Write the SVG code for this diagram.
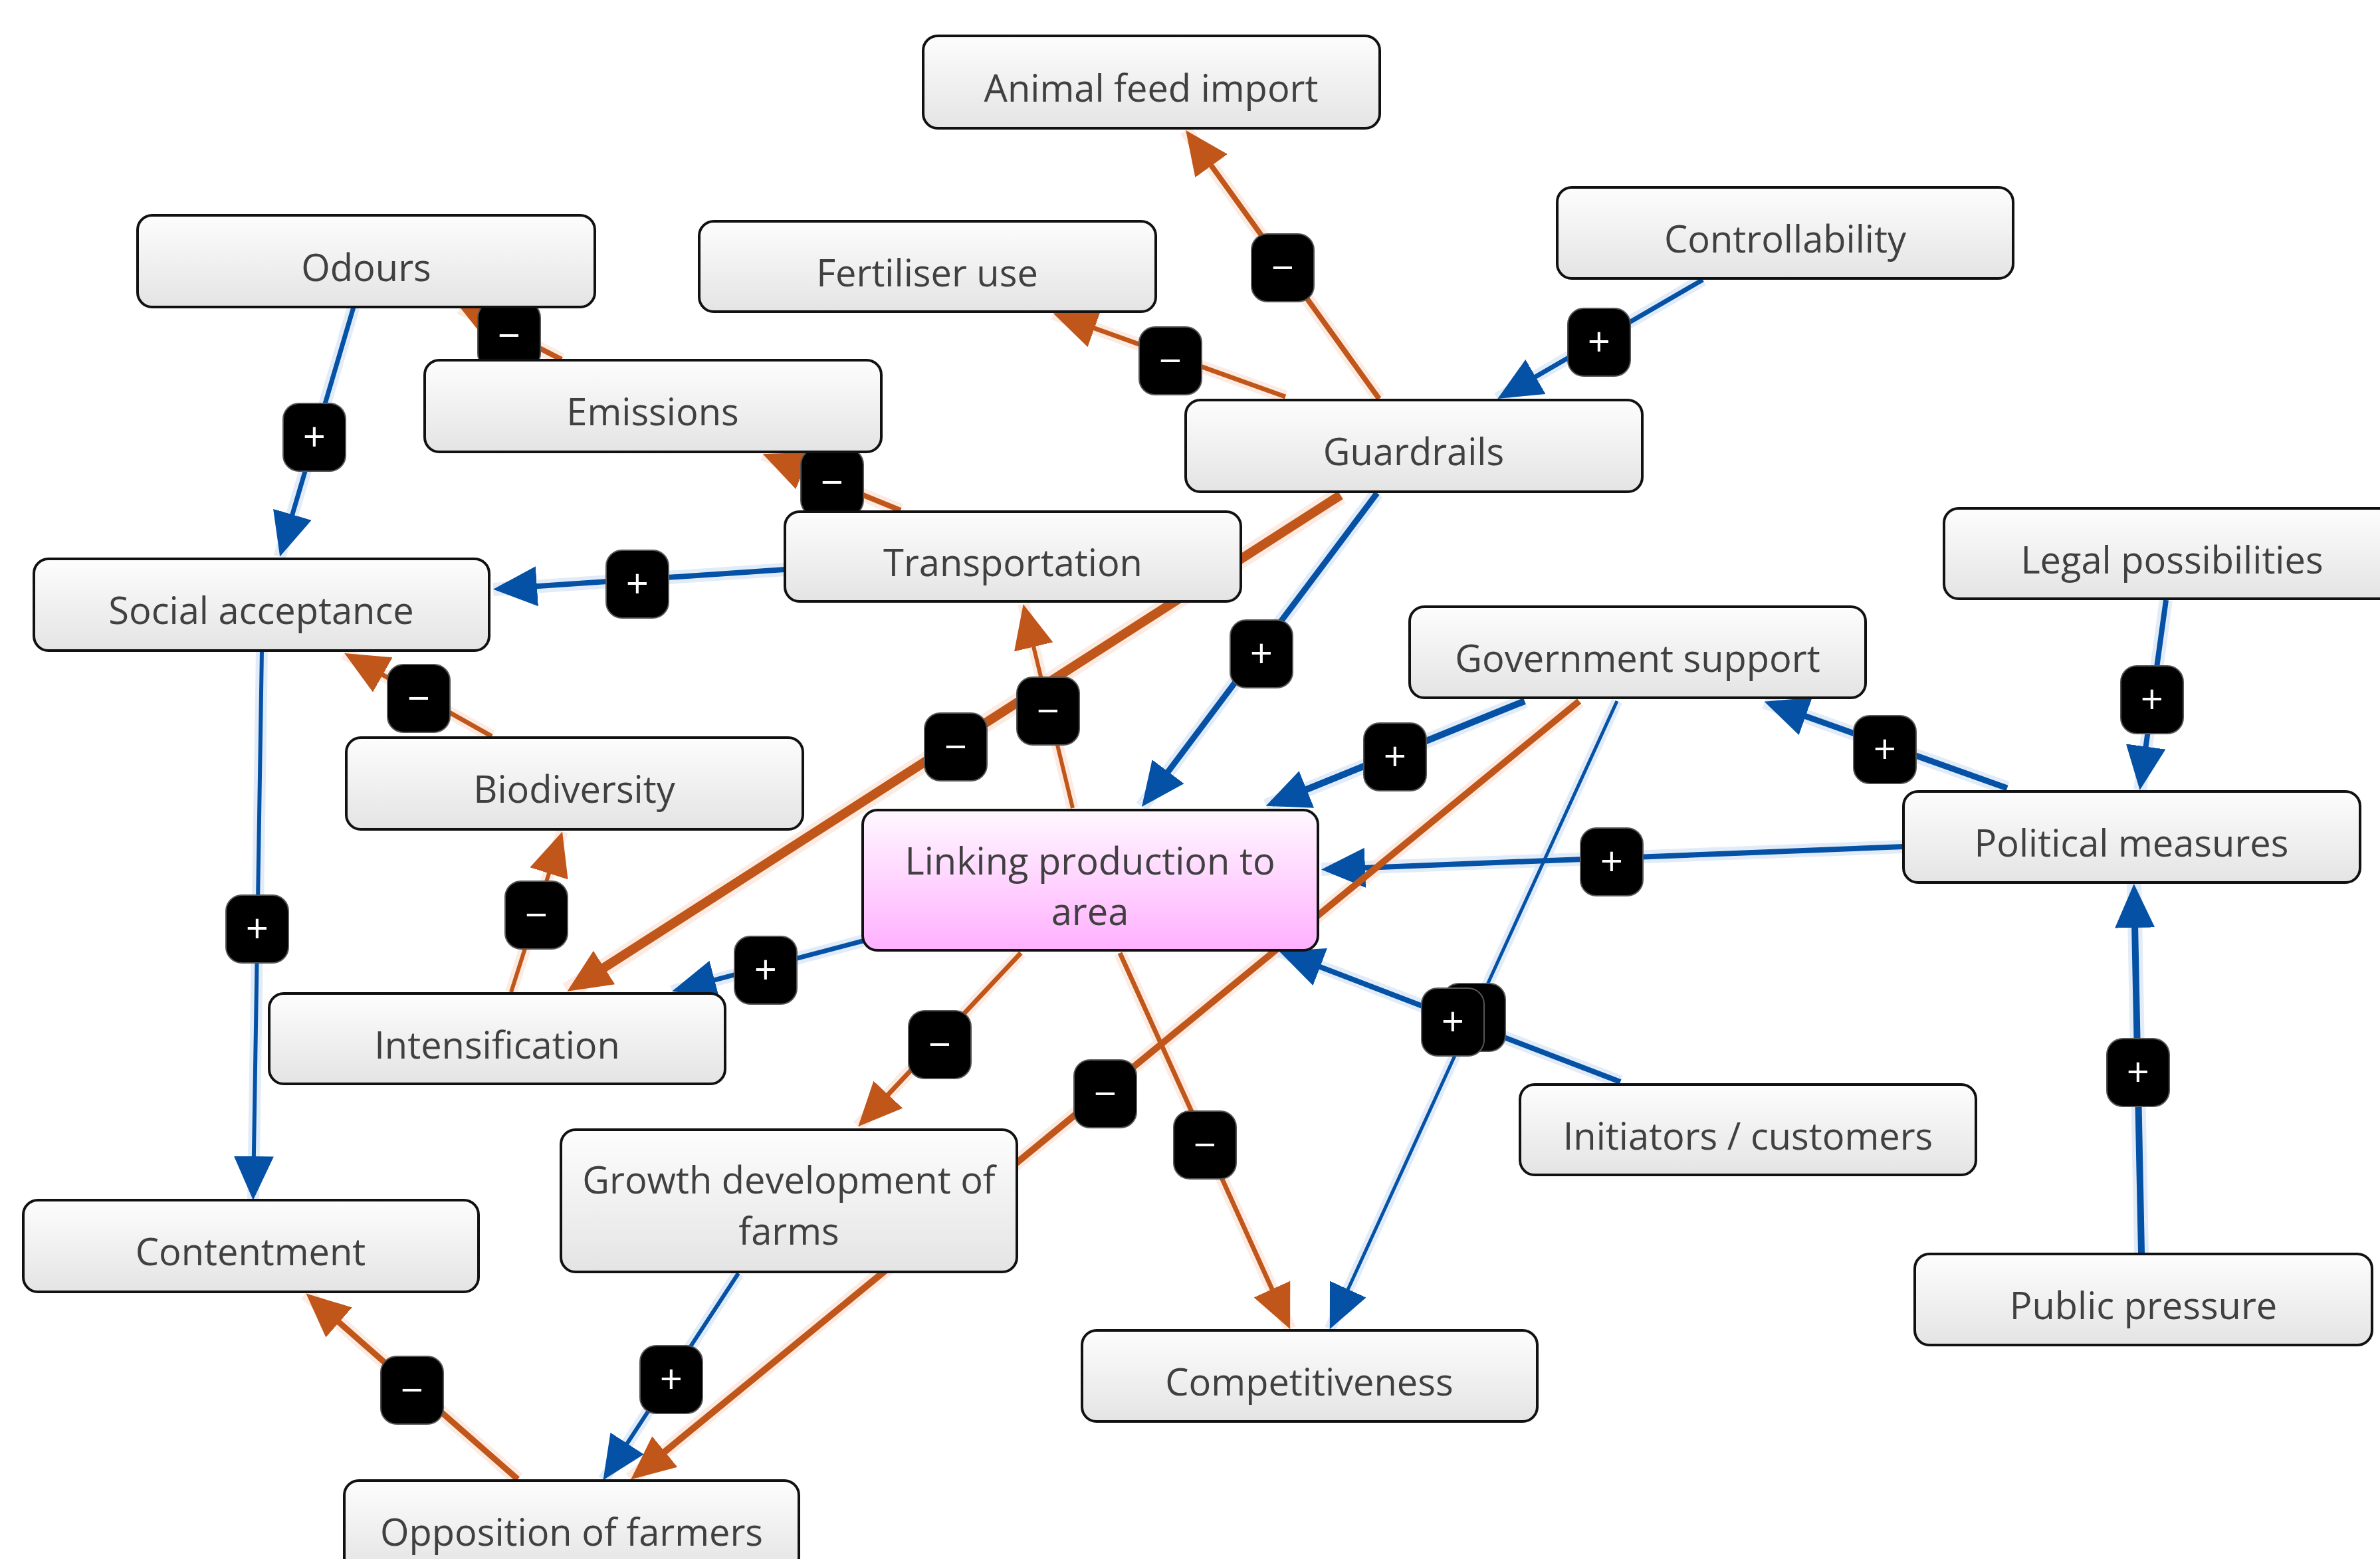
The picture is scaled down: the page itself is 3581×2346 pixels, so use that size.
<svg xmlns="http://www.w3.org/2000/svg" width="3581" height="2346" viewBox="0 0 3581 2346">
<defs>
<linearGradient id="gNode" x1="0" y1="0" x2="0" y2="1">
<stop offset="0" stop-color="#fdfdfd"/><stop offset="1" stop-color="#e4e4e4"/>
</linearGradient>
<linearGradient id="gPink" x1="0" y1="0" x2="0" y2="1">
<stop offset="0" stop-color="#fff8ff"/><stop offset="1" stop-color="#ffb0ff"/>
</linearGradient>
<marker id="ab" markerUnits="userSpaceOnUse" viewBox="0 0 66 60" markerWidth="66" markerHeight="60" refX="56" refY="30" orient="auto"><path d="M0,0 L66,30 L0,60 z" fill="#0451a5"/></marker>
<marker id="ao" markerUnits="userSpaceOnUse" viewBox="0 0 66 60" markerWidth="66" markerHeight="60" refX="56" refY="30" orient="auto"><path d="M0,0 L66,30 L0,60 z" fill="#c0561a"/></marker>
<marker id="aoT" markerUnits="userSpaceOnUse" viewBox="0 0 66 60" markerWidth="66" markerHeight="60" refX="50" refY="30" orient="auto"><path d="M0,0 L66,30 L0,60 z" fill="#c0561a"/></marker>
</defs>
<style>
.node rect{fill:url(#gNode);stroke:#111;stroke-width:4}
.node.pink rect{fill:url(#gPink)}
.node text{font-family:"Open Sans","Noto Sans","Liberation Sans",sans-serif;font-size:56px;fill:#404040;text-anchor:middle}
.b{stroke:#0451a5;fill:none;marker-end:url(#ab)}
.o{stroke:#c0561a;fill:none;marker-end:url(#ao)}
.hb{stroke:#d6e4f5;fill:none;opacity:0.7}
.ho{stroke:#fbe3d6;fill:none;opacity:0.7}
.lab rect{fill:#000;stroke:#555;stroke-width:2}
.lab text{font-family:"Open Sans","Noto Sans","Liberation Sans",sans-serif;font-size:60px;fill:#fff;text-anchor:middle}
</style>
<rect x="0" y="0" width="3581" height="2346" fill="#fff"/>
<g id="connectors">
<g id="halos">
<line class="ho" stroke-width="20" x1="2075" y1="600" x2="1784" y2="196"/>
<line class="ho" stroke-width="19" x1="1934" y1="597" x2="1585" y2="472"/>
<line class="hb" stroke-width="19" x1="2562" y1="421" x2="2253" y2="600"/>
<line class="ho" stroke-width="20" x1="845" y1="541" x2="692" y2="463"/>
<line class="ho" stroke-width="20" x1="1355" y1="768" x2="1148" y2="683"/>
<line class="hb" stroke-width="19" x1="532" y1="462" x2="421" y2="838"/>
<line class="hb" stroke-width="20" x1="1181" y1="857" x2="742" y2="887"/>
<line class="ho" stroke-width="19" x1="740" y1="1108" x2="518" y2="983"/>
<line class="ho" stroke-width="18" x1="769" y1="1493" x2="846" y2="1251"/>
<line class="hb" stroke-width="18" x1="394" y1="979" x2="381" y2="1806"/>
<line class="ho" stroke-width="28" x1="2017" y1="745" x2="854" y2="1492"/>
<line class="hb" stroke-width="21" x1="2072" y1="742" x2="1718" y2="1214"/>
<line class="ho" stroke-width="18" x1="1614" y1="1216" x2="1540" y2="909"/>
<line class="hb" stroke-width="22" x1="2294" y1="1055" x2="1905" y2="1213"/>
<line class="hb" stroke-width="20" x1="2864" y1="1274" x2="1988" y2="1308"/>
<line class="hb" stroke-width="21" x1="3020" y1="1186" x2="2655" y2="1056"/>
<line class="hb" stroke-width="20" x1="3259" y1="903" x2="3220" y2="1189"/>
<line class="hb" stroke-width="22" x1="3222" y1="1885" x2="3211" y2="1330"/>
<line class="hb" stroke-width="19" x1="1298" y1="1416" x2="1011" y2="1492"/>
<line class="ho" stroke-width="19" x1="1536" y1="1434" x2="1291" y2="1695"/>
<line class="ho" stroke-width="22" x1="2376" y1="1055" x2="949" y2="2226"/>
<line class="ho" stroke-width="19" x1="1685" y1="1434" x2="1941" y2="2000"/>
<line class="hb" stroke-width="17" x1="2433" y1="1055" x2="2001" y2="2000"/>
<line class="hb" stroke-width="20" x1="2438" y1="1628" x2="1925" y2="1431"/>
<line class="hb" stroke-width="18" x1="1111" y1="1916" x2="908" y2="2227"/>
<line class="ho" stroke-width="21" x1="779" y1="2226" x2="460" y2="1946"/>
</g>
<g id="lines">
<line id="e1" class="o" stroke-width="8" x1="2075" y1="600" x2="1790" y2="204"/>
<line id="e2" class="o" stroke-width="7" x1="1934" y1="597" x2="1594" y2="475"/>
<line id="e3" class="b" stroke-width="7" x1="2562" y1="421" x2="2262" y2="595"/>
<line id="e4" class="o" stroke-width="8" x1="845" y1="541" x2="701" y2="467"/>
<line id="e5" class="o" stroke-width="8" x1="1355" y1="768" x2="1157" y2="687"/>
<line id="e6" class="b" stroke-width="7" x1="532" y1="462" x2="424" y2="828"/>
<line id="e7" class="b" stroke-width="8" x1="1181" y1="857" x2="752" y2="886"/>
<line id="e8" class="o" stroke-width="7" x1="740" y1="1108" x2="527" y2="988"/>
<line id="e9" class="o" stroke-width="6" x1="769" y1="1493" x2="843" y2="1261"/>
<line id="e10" class="b" stroke-width="6" x1="394" y1="979" x2="381" y2="1796"/>
<line id="e11" class="o" stroke-width="14" style="marker-end:url(#aoT)" x1="2017" y1="745" x2="867" y2="1483"/>
<line id="e12" class="b" stroke-width="9" x1="2072" y1="742" x2="1724" y2="1206"/>
<line id="e13" class="o" stroke-width="6" x1="1614" y1="1216" x2="1542" y2="919"/>
<line id="e14" class="b" stroke-width="10" x1="2294" y1="1055" x2="1914" y2="1209"/>
<line id="e15" class="b" stroke-width="8" x1="2864" y1="1274" x2="1998" y2="1308"/>
<line id="e16" class="b" stroke-width="9" x1="3020" y1="1186" x2="2664" y2="1059"/>
<line id="e17" class="b" stroke-width="8" x1="3259" y1="903" x2="3221" y2="1179"/>
<line id="e18" class="b" stroke-width="10" x1="3222" y1="1885" x2="3211" y2="1340"/>
<line id="e19" class="b" stroke-width="7" x1="1298" y1="1416" x2="1021" y2="1489"/>
<line id="e20" class="o" stroke-width="7" x1="1536" y1="1434" x2="1298" y2="1688"/>
<line id="e21" class="o" stroke-width="10" x1="2376" y1="1055" x2="957" y2="2220"/>
<line id="e22" class="o" stroke-width="7" x1="1685" y1="1434" x2="1937" y2="1991"/>
<line id="e23" class="b" stroke-width="5" x1="2433" y1="1055" x2="2005" y2="1991"/>
<line id="e24" class="b" stroke-width="8" x1="2438" y1="1628" x2="1934" y2="1435"/>
<line id="e25" class="b" stroke-width="6" x1="1111" y1="1916" x2="913" y2="2219"/>
<line id="e26" class="o" stroke-width="9" x1="779" y1="2226" x2="468" y2="1953"/>
</g>
</g>
<g id="labels">
<g class="lab"><rect x="1883" y="352" width="94" height="102" rx="24"/><text x="1930" y="424">−</text></g>
<g class="lab"><rect x="1714" y="492" width="94" height="102" rx="24"/><text x="1761" y="564">−</text></g>
<g class="lab"><rect x="2359" y="464" width="94" height="102" rx="24"/><text x="2406" y="536">+</text></g>
<g class="lab"><rect x="719" y="454" width="94" height="102" rx="24"/><text x="766" y="526">−</text></g>
<g class="lab"><rect x="1205" y="675" width="94" height="102" rx="24"/><text x="1252" y="747">−</text></g>
<g class="lab"><rect x="426" y="607" width="94" height="102" rx="24"/><text x="473" y="679">+</text></g>
<g class="lab"><rect x="912" y="828" width="94" height="102" rx="24"/><text x="959" y="900">+</text></g>
<g class="lab"><rect x="583" y="1000" width="94" height="102" rx="24"/><text x="630" y="1072">−</text></g>
<g class="lab"><rect x="760" y="1326" width="94" height="102" rx="24"/><text x="807" y="1398">−</text></g>
<g class="lab"><rect x="340" y="1347" width="94" height="102" rx="24"/><text x="387" y="1419">+</text></g>
<g class="lab"><rect x="1391" y="1073" width="94" height="102" rx="24"/><text x="1438" y="1145">−</text></g>
<g class="lab"><rect x="1851" y="933" width="94" height="102" rx="24"/><text x="1898" y="1005">+</text></g>
<g class="lab"><rect x="1530" y="1019" width="94" height="102" rx="24"/><text x="1577" y="1091">−</text></g>
<g class="lab"><rect x="2052" y="1088" width="94" height="102" rx="24"/><text x="2099" y="1160">+</text></g>
<g class="lab"><rect x="2378" y="1246" width="94" height="102" rx="24"/><text x="2425" y="1318">+</text></g>
<g class="lab"><rect x="2789" y="1077" width="94" height="102" rx="24"/><text x="2836" y="1149">+</text></g>
<g class="lab"><rect x="3191" y="1002" width="94" height="102" rx="24"/><text x="3238" y="1074">+</text></g>
<g class="lab"><rect x="3170" y="1563" width="94" height="102" rx="24"/><text x="3217" y="1635">+</text></g>
<g class="lab"><rect x="1105" y="1409" width="94" height="102" rx="24"/><text x="1152" y="1481">+</text></g>
<g class="lab"><rect x="1367" y="1521" width="94" height="102" rx="24"/><text x="1414" y="1593">−</text></g>
<g class="lab"><rect x="1616" y="1595" width="94" height="102" rx="24"/><text x="1663" y="1667">−</text></g>
<g class="lab"><rect x="1766" y="1672" width="94" height="102" rx="24"/><text x="1813" y="1744">−</text></g>
<g class="lab"><rect x="2171" y="1480" width="94" height="102" rx="24"/><text x="2218" y="1552">+</text></g>
<g class="lab"><rect x="2139" y="1487" width="94" height="102" rx="24"/><text x="2186" y="1559">+</text></g>
<g class="lab"><rect x="963" y="2025" width="94" height="102" rx="24"/><text x="1010" y="2097">+</text></g>
<g class="lab"><rect x="573" y="2041" width="94" height="102" rx="24"/><text x="620" y="2113">−</text></g>
</g>
<g id="nodes">
<g id="n-animal" class="node"><rect x="1389" y="54" width="687" height="139" rx="22"/><text x="1732" y="153">Animal feed import</text></g>
<g id="n-odours" class="node"><rect x="207" y="324" width="688" height="138" rx="22"/><text x="551" y="423">Odours</text></g>
<g id="n-fertiliser" class="node"><rect x="1052" y="333" width="687" height="136" rx="22"/><text x="1395" y="431">Fertiliser use</text></g>
<g id="n-controllability" class="node"><rect x="2343" y="282" width="686" height="137" rx="22"/><text x="2686" y="380">Controllability</text></g>
<g id="n-emissions" class="node"><rect x="639" y="542" width="687" height="138" rx="22"/><text x="982" y="640">Emissions</text></g>
<g id="n-guardrails" class="node"><rect x="1784" y="602" width="687" height="138" rx="22"/><text x="2127" y="700">Guardrails</text></g>
<g id="n-transportation" class="node"><rect x="1181" y="770" width="686" height="135" rx="22"/><text x="1524" y="867">Transportation</text></g>
<g id="n-legal" class="node"><rect x="2925" y="765" width="686" height="136" rx="22"/><text x="3268" y="863">Legal possibilities</text></g>
<g id="n-social" class="node"><rect x="51" y="841" width="685" height="138" rx="22"/><text x="393" y="939">Social acceptance</text></g>
<g id="n-government" class="node"><rect x="2121" y="913" width="686" height="137" rx="22"/><text x="2464" y="1011">Government support</text></g>
<g id="n-biodiversity" class="node"><rect x="521" y="1110" width="687" height="138" rx="22"/><text x="864" y="1208">Biodiversity</text></g>
<g id="n-linking" class="node pink"><rect x="1298" y="1219" width="685" height="211" rx="22"/><text x="1640" y="1316">Linking production to</text><text x="1640" y="1392">area</text></g>
<g id="n-political" class="node"><rect x="2864" y="1191" width="687" height="137" rx="22"/><text x="3207" y="1289">Political measures</text></g>
<g id="n-intensification" class="node"><rect x="405" y="1495" width="686" height="136" rx="22"/><text x="748" y="1593">Intensification</text></g>
<g id="n-initiators" class="node"><rect x="2287" y="1632" width="686" height="136" rx="22"/><text x="2630" y="1730">Initiators / customers</text></g>
<g id="n-growth" class="node"><rect x="844" y="1700" width="686" height="214" rx="22"/><text x="1187" y="1796">Growth development of</text><text x="1187" y="1873">farms</text></g>
<g id="n-contentment" class="node"><rect x="35" y="1806" width="685" height="138" rx="22"/><text x="377" y="1904">Contentment</text></g>
<g id="n-competitiveness" class="node"><rect x="1628" y="2002" width="685" height="137" rx="22"/><text x="1970" y="2100">Competitiveness</text></g>
<g id="n-public" class="node"><rect x="2881" y="1887" width="688" height="137" rx="22"/><text x="3225" y="1985">Public pressure</text></g>
<g id="n-opposition" class="node"><rect x="518" y="2228" width="684" height="138" rx="22"/><text x="860" y="2326">Opposition of farmers</text></g>
</g>
</svg>
